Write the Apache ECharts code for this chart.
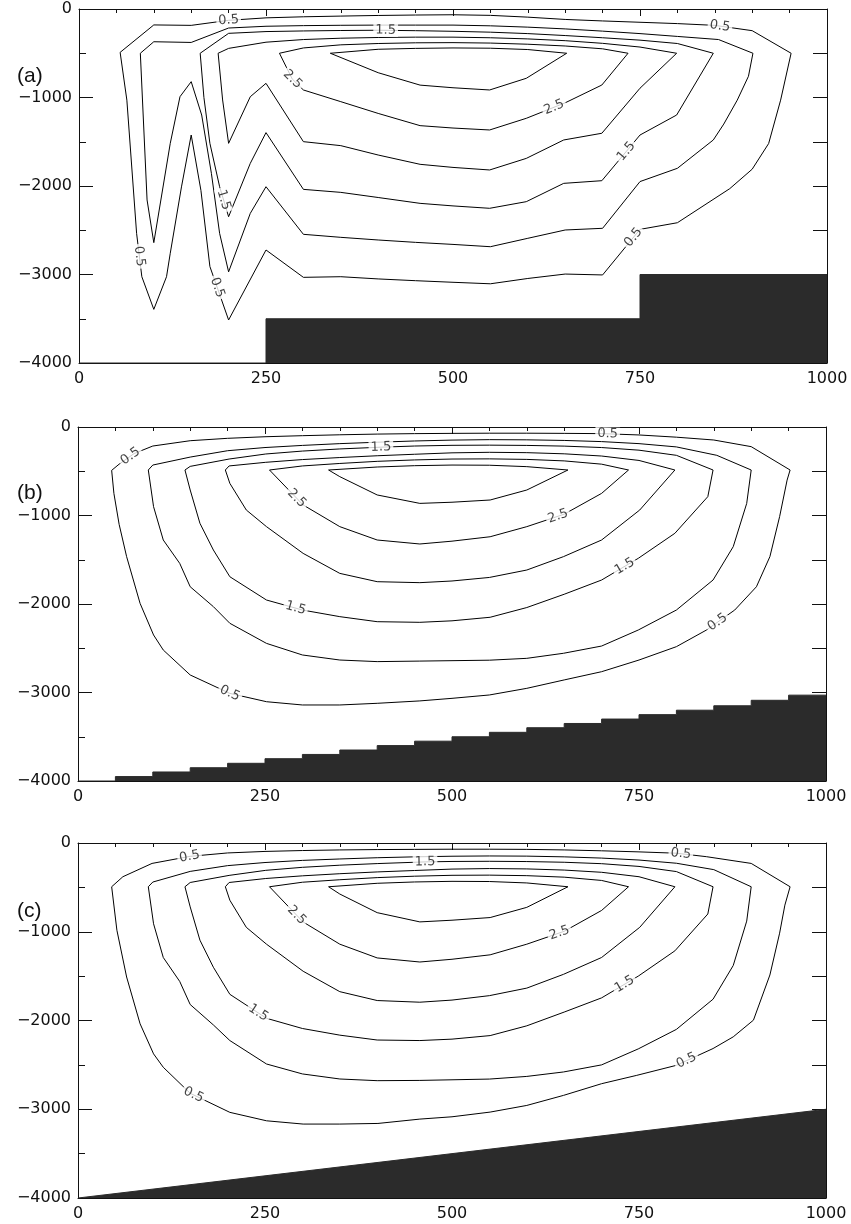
<html>
<head>
    <meta charset="utf-8">
    <title>contours</title>
    <script src="https://cdn.jsdelivr.net/npm/echarts@6.0.0/dist/echarts.min.js"></script>
</head>
<body style="margin:0;background:#fff;">
<div style="width: 851px; height: 1224px;" id="main"></div>
<script type="text/javascript">
// contour levels, in the order the loops are listed below
var levels = ['0.5', '1.0', '1.5', '2.0', '2.5', '3.0'];
var xTicks = [0, 250, 500, 750, 1000];

// ---- panel (a) ----
var a05 = [[55,-490],[100,-180],[150,-185],[200,-128],[250,-100],[300,-88],[350,-80],[400,-73],[450,-68],[500,-65],[550,-72],[600,-92],[650,-118],[700,-135],[750,-150],[800,-165],[850,-185],[900,-245],[952,-500],[938,-1030],[922,-1520],[900,-1810],[870,-2030],[800,-2415],[750,-2490],[700,-3005],[650,-2995],[600,-3045],[550,-3105],[500,-3088],[450,-3070],[400,-3050],[350,-3025],[300,-3032],[250,-2723],[200,-3514],[175,-2910],[163,-2050],[150,-1424],[137,-2010],[122,-2760],[117,-3025],[100,-3394],[84,-3025],[77,-2535],[64,-1030],[55,-490]];
var a10 = [[82,-500],[100,-370],[150,-378],[200,-215],[250,-195],[300,-188],[350,-184],[400,-182],[450,-182],[500,-182],[550,-190],[600,-205],[650,-225],[700,-250],[750,-278],[800,-310],[855,-345],[901,-500],[895,-760],[880,-1030],[862,-1300],[848,-1480],[800,-1800],[750,-1950],[700,-2478],[650,-2497],[600,-2591],[550,-2686],[500,-2660],[450,-2637],[400,-2610],[350,-2580],[300,-2546],[250,-2008],[229,-2309],[200,-2970],[188,-2535],[177,-1857],[164,-1198],[150,-821],[135,-991],[122,-1518],[100,-2640],[91,-2158],[82,-500]];
var a15 = [[162,-500],[200,-275],[250,-255],[300,-248],[350,-243],[400,-240],[450,-245],[500,-252],[550,-262],[600,-278],[650,-300],[700,-325],[750,-352],[800,-390],[848,-500],[799,-1198],[750,-1424],[699,-1940],[648,-1970],[598,-2177],[549,-2252],[500,-2225],[456,-2196],[400,-2130],[350,-2072],[300,-2038],[250,-1397],[229,-1744],[200,-2347],[188,-2008],[175,-1518],[167,-1000],[162,-500]];
var a20 = [[186,-500],[200,-445],[250,-375],[300,-345],[350,-330],[400,-322],[450,-318],[500,-318],[550,-325],[600,-338],[650,-358],[700,-388],[750,-430],[799,-500],[750,-895],[699,-1404],[648,-1480],[598,-1688],[549,-1819],[500,-1790],[456,-1755],[400,-1650],[350,-1544],[300,-1499],[250,-840],[229,-991],[200,-1518],[192,-1028],[186,-500]];
var a25 = [[268,-500],[300,-440],[350,-405],[400,-390],[450,-382],[500,-380],[550,-385],[600,-398],[650,-418],[700,-450],[734,-500],[699,-859],[650,-1060],[598,-1235],[549,-1367],[500,-1345],[456,-1318],[400,-1180],[350,-1047],[300,-915],[285,-790],[268,-500]];
var a30 = [[336,-500],[400,-455],[450,-445],[500,-440],[550,-443],[600,-458],[652,-500],[598,-783],[549,-915],[500,-890],[456,-860],[400,-720],[336,-500]];
var aFloorX = [0, 250, 750, 1000];
var aFloorY = [-4000, -3500, -3000, -3000];
var aLabels = [['0.5',200,-117],['0.5',857,-190],['0.5',741,-2580],['0.5',77,-2799],['0.5',184,-3150],['1.5',410,-230],['1.5',193,-2158],['1.5',732,-1610],['2.5',286,-790],['2.5',634,-1085]];

// ---- panel (b) ----
var b05 = [[45,-490],[48,-750],[55,-1100],[65,-1465],[83,-1993],[101,-2350],[114,-2520],[150,-2802],[203,-3010],[252,-3104],[300,-3141],[350,-3141],[400,-3122],[457,-3095],[500,-3066],[550,-3028],[600,-2953],[650,-2858],[700,-2765],[750,-2633],[800,-2482],[840,-2295],[878,-2068],[907,-1805],[925,-1465],[938,-1013],[948,-600],[952,-486],[900,-222],[850,-147],[800,-115],[750,-90],[700,-75],[650,-72],[600,-70],[550,-70],[500,-72],[450,-75],[400,-80],[350,-88],[300,-98],[250,-110],[200,-128],[150,-155],[100,-215],[75,-300],[55,-420],[45,-490]];
var b10 = [[94,-486],[100,-430],[150,-340],[200,-268],[250,-232],[300,-208],[350,-188],[400,-172],[450,-158],[500,-148],[550,-143],[600,-145],[650,-152],[700,-165],[750,-188],[800,-225],[854,-320],[900,-486],[894,-863],[876,-1352],[849,-1729],[800,-2068],[749,-2294],[700,-2475],[649,-2557],[600,-2614],[550,-2635],[457,-2645],[400,-2651],[350,-2633],[300,-2576],[252,-2445],[203,-2218],[181,-2030],[150,-1805],[136,-1541],[114,-1277],[101,-900],[94,-486]];
var b15 = [[143,-486],[150,-445],[202,-362],[251,-305],[300,-272],[350,-248],[405,-228],[450,-215],[500,-207],[550,-205],[600,-208],[650,-216],[700,-232],[750,-262],[800,-320],[849,-486],[842,-787],[798,-1201],[749,-1484],[700,-1729],[650,-1890],[600,-2040],[551,-2150],[500,-2190],[457,-2207],[400,-2200],[350,-2143],[300,-2068],[252,-1955],[203,-1692],[181,-1390],[163,-1088],[150,-712],[143,-486]];
var b20 = [[197,-486],[202,-440],[251,-399],[300,-368],[350,-345],[400,-325],[450,-308],[500,-292],[550,-286],[600,-290],[650,-303],[700,-328],[750,-378],[798,-486],[751,-938],[700,-1277],[649,-1465],[600,-1616],[550,-1700],[500,-1740],[457,-1759],[400,-1748],[350,-1654],[301,-1428],[252,-1126],[225,-938],[203,-637],[197,-486]];
var b25 = [[256,-486],[300,-440],[350,-412],[400,-388],[450,-372],[500,-362],[550,-360],[600,-366],[650,-383],[700,-420],[736,-486],[700,-750],[650,-985],[600,-1126],[551,-1240],[500,-1290],[457,-1322],[400,-1277],[350,-1126],[301,-881],[256,-486]];
var b30 = [[335,-486],[400,-452],[450,-437],[500,-430],[550,-432],[600,-448],[655,-486],[600,-712],[551,-825],[500,-850],[457,-863],[400,-768],[350,-561],[335,-486]];
var bFloorX = [0,50,100,150,200,250,300,350,400,450,500,550,600,650,700,750,800,850,900,950,1000];
var bFloorY = [-4000,-3950,-3898,-3850,-3800,-3748,-3700,-3650,-3600,-3550,-3500,-3450,-3398,-3350,-3300,-3250,-3200,-3150,-3088,-3030,-3030];
var bLabels = [['0.5',70,-330],['0.5',708,-75],['0.5',203,-3009],['0.5',856,-2218],['1.5',405,-218],['1.5',292,-2011],['1.5',731,-1578],['2.5',290,-825],['2.5',642,-1013]];

// ---- panel (c) ----
var c05 = [[45,-493],[52,-983],[65,-1510],[83,-2037],[101,-2376],[114,-2527],[150,-2820],[203,-3035],[252,-3130],[301,-3167],[350,-3167],[401,-3160],[457,-3111],[500,-3085],[551,-3032],[600,-2957],[649,-2844],[700,-2712],[747,-2618],[800,-2505],[849,-2316],[876,-2184],[903,-1996],[925,-1487],[938,-1016],[945,-700],[952,-493],[900,-230],[840,-154],[800,-115],[750,-100],[700,-88],[650,-78],[600,-72],[550,-70],[500,-70],[450,-72],[400,-74],[350,-78],[300,-85],[250,-95],[200,-112],[150,-150],[99,-230],[60,-380],[45,-493]];
var c10 = [[94,-493],[100,-440],[150,-320],[200,-255],[250,-220],[300,-196],[350,-180],[400,-166],[450,-156],[500,-149],[550,-146],[600,-148],[650,-156],[700,-170],[750,-192],[800,-228],[850,-300],[900,-493],[894,-880],[876,-1380],[849,-1760],[800,-2100],[749,-2320],[700,-2500],[649,-2580],[600,-2630],[550,-2660],[457,-2675],[400,-2678],[350,-2659],[300,-2602],[252,-2490],[203,-2226],[181,-2050],[150,-1820],[136,-1560],[114,-1290],[101,-910],[94,-493]];
var c15 = [[143,-493],[150,-445],[202,-365],[251,-308],[300,-274],[350,-250],[400,-232],[464,-213],[500,-208],[550,-206],[600,-209],[650,-217],[700,-233],[750,-264],[800,-322],[849,-493],[842,-800],[798,-1215],[749,-1500],[700,-1745],[650,-1905],[600,-2060],[551,-2170],[500,-2210],[457,-2226],[400,-2220],[350,-2165],[300,-2090],[252,-1975],[203,-1705],[181,-1400],[163,-1095],[150,-720],[143,-493]];
var c20 = [[197,-493],[202,-445],[251,-400],[300,-370],[350,-346],[400,-326],[450,-310],[500,-294],[550,-288],[600,-292],[650,-305],[700,-330],[750,-380],[798,-493],[751,-950],[700,-1290],[649,-1480],[600,-1635],[550,-1720],[500,-1770],[457,-1794],[400,-1775],[350,-1675],[301,-1445],[252,-1140],[225,-950],[203,-645],[197,-493]];
var c25 = [[256,-493],[300,-442],[350,-414],[400,-390],[450,-374],[500,-364],[550,-362],[600,-368],[650,-385],[700,-422],[736,-493],[700,-760],[650,-995],[600,-1140],[551,-1260],[500,-1310],[457,-1341],[400,-1295],[350,-1140],[301,-890],[256,-493]];
var c30 = [[335,-493],[400,-454],[450,-439],[500,-432],[550,-434],[600,-450],[655,-493],[600,-725],[551,-840],[500,-870],[457,-889],[400,-785],[350,-575],[335,-493]];
var cFloorX = [0, 1000];
var cFloorY = [-4000, -3000];
var cLabels = [['0.5',149,-150],['0.5',806,-120],['0.5',154,-2847],['0.5',814,-2460],['1.5',464,-211],['1.5',246,-1850],['1.5',733,-1624],['2.5',290,-832],['2.5',644,-1020]];

var panels = [
    {name: '(a)', left: 79, top: 9, height: 354, letterTop: 66, contours: [a05, a10, a15, a20, a25, a30], floorX: aFloorX, floorY: aFloorY, step: 'end', labels: aLabels},
    {name: '(b)', left: 78, top: 427, height: 354, letterTop: 483, contours: [b05, b10, b15, b20, b25, b30], floorX: bFloorX, floorY: bFloorY, step: 'end', labels: bLabels},
    {name: '(c)', left: 78, top: 843, height: 355, letterTop: 901, contours: [c05, c10, c15, c20, c25, c30], floorX: cFloorX, floorY: cFloorY, step: false, labels: cLabels}
];

var ink = '#111';
var floorColor = '#2b2b2b';
var tickFont = {fontFamily: 'DejaVu Sans', fontSize: 16, color: ink};

var option = {
    animation: false,
    backgroundColor: '#fff',
    grid: [], xAxis: [], yAxis: [], series: [], graphic: []
};

panels.forEach(function (p, i) {
    option.grid.push({left: p.left, top: p.top, width: 748, height: p.height, containLabel: false});
    // bottom axis: labels only
    option.xAxis.push({
        type: 'value', gridIndex: i, min: 0, max: 1000, interval: 250, position: 'bottom',
        axisLine: {show: true, onZero: false, lineStyle: {color: ink, width: 1}},
        axisTick: {show: false},
        splitLine: {show: false},
        axisLabel: Object.assign({margin: 8, formatter: function (v) { return String(v); }}, tickFont)
    });
    // top axis: inward ticks every 50
    option.xAxis.push({
        type: 'value', gridIndex: i, min: 0, max: 1000, interval: 250, position: 'top',
        axisLine: {show: true, onZero: false, lineStyle: {color: ink, width: 1}},
        axisTick: {show: true, inside: true, length: 7, lineStyle: {color: ink}},
        minorTick: {show: true, splitNumber: 5, length: 4, lineStyle: {color: ink}},
        splitLine: {show: false}, minorSplitLine: {show: false},
        axisLabel: {show: false}
    });
    option.yAxis.push({
        type: 'value', gridIndex: i, min: -4000, max: 0, interval: 1000, position: 'left',
        axisLine: {show: true, onZero: false, lineStyle: {color: ink, width: 1}},
        axisTick: {show: true, inside: true, length: 14, lineStyle: {color: ink}},
        minorTick: {show: true, splitNumber: 2, length: 7, lineStyle: {color: ink}},
        splitLine: {show: false}, minorSplitLine: {show: false},
        axisLabel: Object.assign({margin: 7, formatter: function (v) { return v < 0 ? '\u2212' + (-v) : String(v); }}, tickFont)
    });
    option.yAxis.push({
        type: 'value', gridIndex: i, min: -4000, max: 0, interval: 500, position: 'right',
        axisLine: {show: true, onZero: false, lineStyle: {color: ink, width: 1}},
        axisTick: {show: true, inside: true, length: 14, lineStyle: {color: ink}},
        splitLine: {show: false},
        axisLabel: {show: false}
    });

    // sea floor
    option.series.push({
        type: 'line', xAxisIndex: 2 * i, yAxisIndex: 2 * i, step: p.step,
        data: p.floorX.map(function (x, k) { return [x, p.floorY[k]]; }),
        symbol: 'none', z: 1,
        lineStyle: {color: floorColor, width: 1},
        areaStyle: {color: floorColor, opacity: 1, origin: 'start'}
    });
    // contour loops
    p.contours.forEach(function (line, k) {
        option.series.push({
            type: 'line', name: levels[k], xAxisIndex: 2 * i, yAxisIndex: 2 * i,
            data: line, symbol: 'none', z: 2,
            lineStyle: {color: '#000', width: 1}
        });
    });
    // contour labels, placed after the first render
    option.series.push({
        id: 'lab' + i, type: 'scatter', xAxisIndex: 2 * i, yAxisIndex: 2 * i,
        data: [], symbolSize: 1, z: 5,
        itemStyle: {color: 'rgba(0,0,0,0)'},
        label: {
            show: true, position: 'inside', formatter: '{b}',
            fontFamily: 'DejaVu Sans', fontSize: 13, color: ink,
            backgroundColor: '#fff', padding: [0, 2]
        }
    });

    option.graphic.push({
        type: 'text', left: 17, top: p.letterTop,
        style: {text: p.name, font: '21px "Liberation Sans"', fill: ink}
    });
});

var myChart = echarts.init(document.getElementById('main'));
myChart.setOption(option);

// snap every label onto its contour and turn it along the line
var updates = panels.map(function (p, i) {
    var finder = {gridIndex: i};
    var items = p.labels.map(function (lb) {
        var line = p.contours[levels.indexOf(lb[0])];
        var P = myChart.convertToPixel(finder, [lb[1], lb[2]]);
        var best = null;
        for (var k = 0; k < line.length - 1; k++) {
            var A = myChart.convertToPixel(finder, line[k]);
            var B = myChart.convertToPixel(finder, line[k + 1]);
            var dx = B[0] - A[0], dy = B[1] - A[1];
            var len2 = dx * dx + dy * dy || 1;
            var t = ((P[0] - A[0]) * dx + (P[1] - A[1]) * dy) / len2;
            t = Math.max(0, Math.min(1, t));
            var Q = [A[0] + t * dx, A[1] + t * dy];
            var d = (Q[0] - P[0]) * (Q[0] - P[0]) + (Q[1] - P[1]) * (Q[1] - P[1]);
            if (!best || d < best.d) best = {d: d, Q: Q, dx: dx, dy: dy};
        }
        var ang = Math.atan2(-best.dy, best.dx) * 180 / Math.PI;
        if (ang > 90) ang -= 180;
        if (ang < -90) ang += 180;
        return {name: lb[0], value: myChart.convertFromPixel(finder, best.Q), label: {rotate: ang}};
    });
    return {id: 'lab' + i, data: items};
});
myChart.setOption({series: updates});
</script>
</body>
</html>
